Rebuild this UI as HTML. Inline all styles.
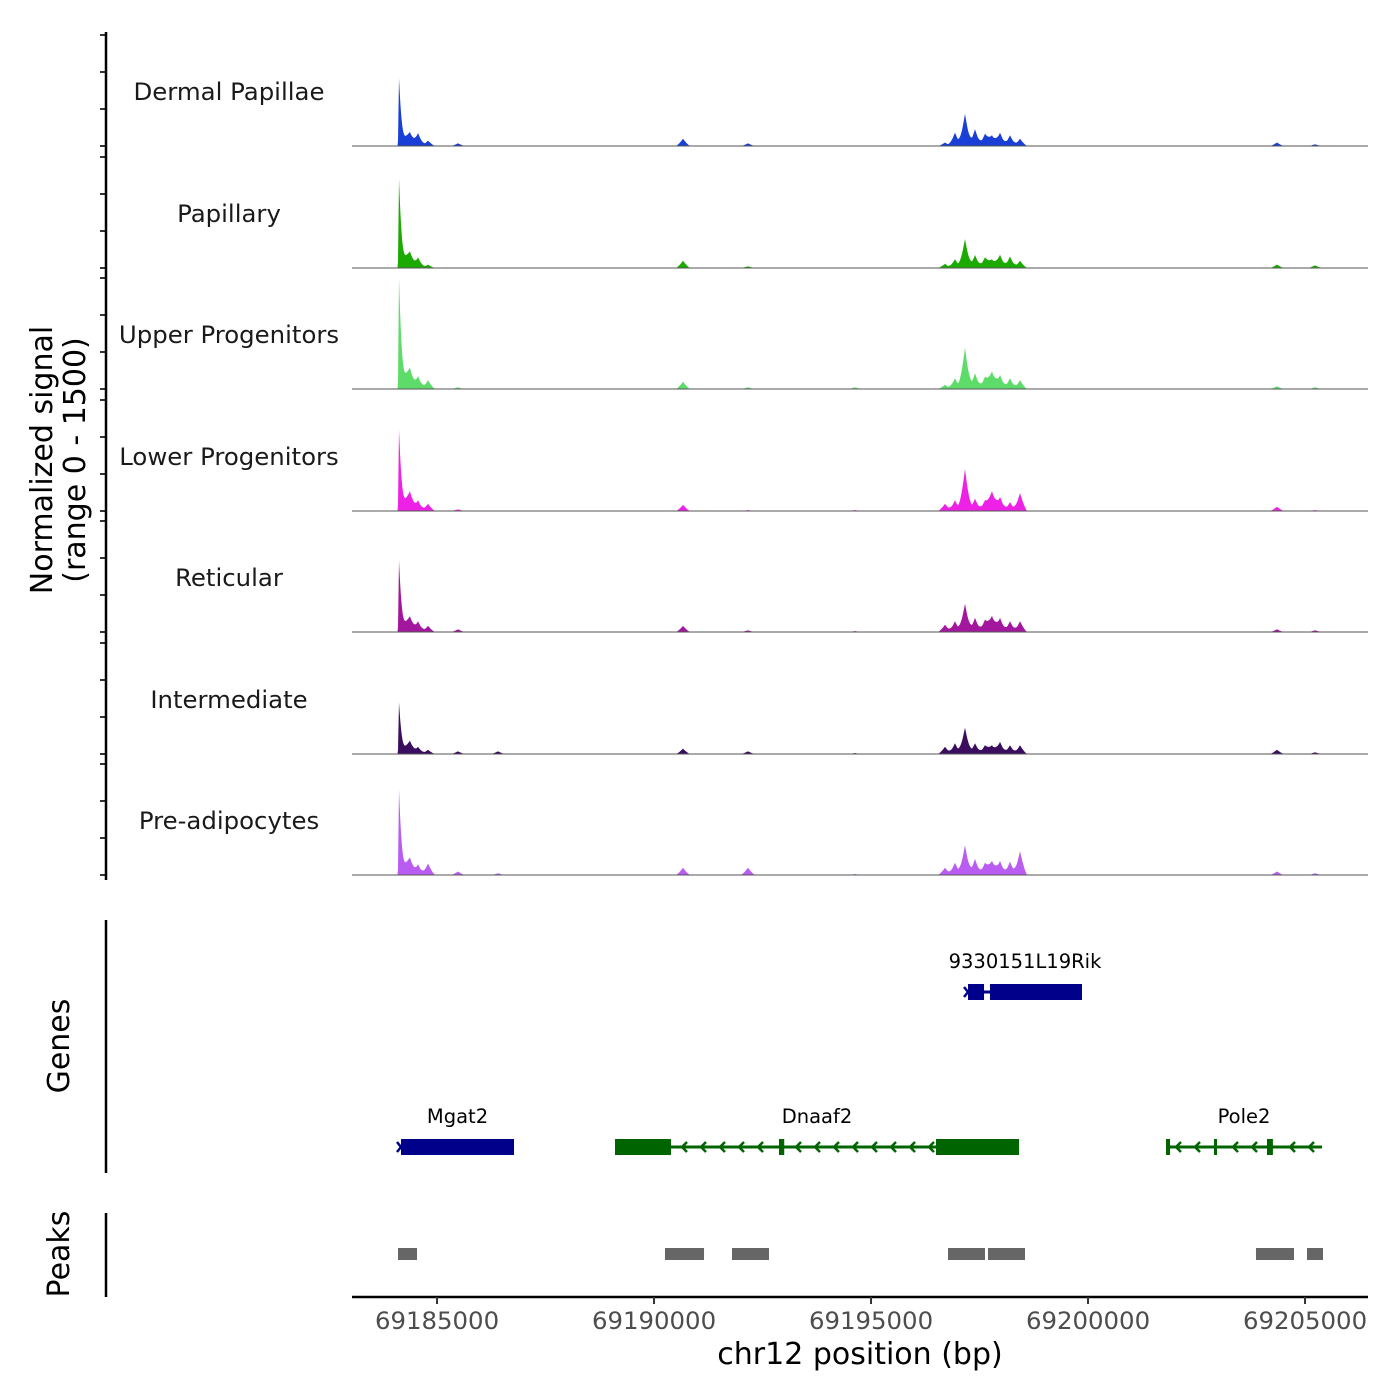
<!DOCTYPE html>
<html><head><meta charset="utf-8">
<style>
html,body{margin:0;padding:0;background:#fff;}
svg{display:block;font-family:"DejaVu Sans","Liberation Sans",sans-serif;}
</style></head>
<body>
<svg id="chart" width="1400" height="1400" viewBox="0 0 1400 1400" xmlns="http://www.w3.org/2000/svg">
<g id="tracks"></g>
<g id="genes"></g>
<g id="peaks"></g>
<g id="axes"></g>
<text transform="translate(52,460) rotate(-90)" text-anchor="middle" font-size="30" fill="#000">Normalized signal</text>
<text transform="translate(85,460) rotate(-90)" text-anchor="middle" font-size="30" fill="#000">(range 0 - 1500)</text>
<text transform="translate(69,1046) rotate(-90)" text-anchor="middle" font-size="30" fill="#000">Genes</text>
<text transform="translate(69,1254) rotate(-90)" text-anchor="middle" font-size="30" fill="#000">Peaks</text>
<text x="860" y="1364" text-anchor="middle" font-size="30" fill="#000">chr12 position (bp)</text>
</svg>
<script>
const trackNames = ["Dermal Papillae","Papillary","Upper Progenitors","Lower Progenitors","Reticular","Intermediate","Pre-adipocytes"];
const trackColors = ["#1a3fd6","#1aaa00","#5ddc6a","#ee22e6","#a3179f","#3b0d5e","#b95cf2"];
const peakPositions = [69184124,69184377,69184562,69184792,69185483,69186405,69190668,69192165,69194631,69196705,69196935,69197165,69197396,69197626,69197788,69197972,69198202,69198433,69204354,69205230];
const dermalValues = [885,140,170,70,35,0,95,35,0,45,175,420,220,160,140,175,140,95,45,22];
const papillaryValues = [1170,160,140,45,0,0,95,22,0,55,115,380,170,140,115,175,150,95,45,35];
const upperValues = [1456,205,170,115,22,0,95,22,22,55,140,540,205,160,230,185,140,115,35,22];
const lowerValues = [1066,205,140,95,22,0,80,12,12,95,140,550,160,140,260,185,115,235,55,12];
const reticularValues = [936,160,140,80,35,0,80,22,12,95,140,370,185,160,210,185,140,140,35,22];
const intermediateValues = [676,140,95,55,35,35,70,35,12,95,140,345,140,115,115,160,115,115,55,22];
const preadipoValues = [1118,175,140,150,45,22,95,95,12,95,160,390,210,160,185,185,175,310,45,22];
const seriesValues = [dermalValues,papillaryValues,upperValues,lowerValues,reticularValues,intermediateValues,preadipoValues];
const xTicks = [69185000,69190000,69195000,69200000,69205000];
const geneNames = ["Mgat2","Dnaaf2","9330151L19Rik","Pole2"];
const geneStarts = [69184170,69189101,69197235,69201797];
const geneEnds = [69186774,69198410,69199861,69205391];
const geneStrands = ["+","-","+","-"];
const geneRows = [1,1,0,1];
const geneExons = [
  [[69184170,69186774]],
  [[69189101,69190391],[69192880,69193000],[69196497,69198410]],
  [[69197235,69197604],[69197741,69199861]],
  [[69201797,69201890],[69202903,69202950],[69204124,69204260]]
];
const peakStarts = [69184101,69190253,69191797,69196774,69197695,69203870,69205046];
const peakEnds = [69184539,69191152,69192649,69197626,69198548,69204746,69205414];

const NS = "http://www.w3.org/2000/svg";
const X0 = 352, X1 = 1368, BP0 = 69183041, BPPX = 0.0434;
function xs(bp){ return X0 + (bp - BP0) * BPPX; }
function xinv(px){ return BP0 + (px - X0) / BPPX; }
const baselines = [146,268,389,511,632,754,875];
function ys(v, i){ return baselines[i] - v / 1500 * 115; }
function mk(tag, attrs, parent){ const e = document.createElementNS(NS, tag); for (const k in attrs) e.setAttribute(k, attrs[k]); parent.appendChild(e); return e; }

const tracks = document.getElementById('tracks');
seriesValues.forEach((vals, i) => {
  let d = "M" + X0 + "," + baselines[i];
  for (let px = X0; px <= X1; px += 0.5) {
    const bp = xinv(px);
    let v = 0;
    peakPositions.forEach((p, k) => {
      const dist = bp - p;
      if (k === 0) {
        if (dist < 0) { const t = 1 + dist / 25; if (t > 0) v += vals[k] * t; }
        else {
          const t1 = 1 - dist / 180; if (t1 > 0) v += vals[k] * 0.82 * Math.pow(t1, 3);
          const t2 = 1 - dist / 350; if (t2 > 0) v += vals[k] * 0.18 * t2;
        }
      } else {
        const t = 1 - Math.abs(dist) / 170;
        if (t > 0) v += vals[k] * Math.pow(t, 1.4);
      }
    });
    d += " L" + px.toFixed(1) + "," + ys(v, i).toFixed(2);
  }
  d += " L" + X1 + "," + baselines[i] + " Z";
  const p = mk('path', {d: d, fill: trackColors[i], stroke: 'none'}, tracks);
  
  
  const bl = mk('line', {x1: X0, x2: X1, y1: baselines[i], y2: baselines[i], stroke: '#555', 'stroke-width': 1}, tracks);
  
  
  const lab = mk('text', {x: 229, y: baselines[i] - 46, 'text-anchor': 'middle', 'font-size': 24.4, fill: '#1a1a1a'}, tracks);
  lab.textContent = trackNames[i];
  
  
  for (let t = 0; t < 4; t++) {
    const ty = baselines[i] - t * 37;
    const tk = mk('line', {x1: 100, x2: 106, y1: ty, y2: ty, stroke: '#333', 'stroke-width': 2}, tracks);
    
    
  }
});

const genes = document.getElementById('genes');
const rowY = [992, 1147];
geneNames.forEach((name, g) => {
  const col = geneStrands[g] === '+' ? '#00008b' : '#006400';
  const y = rowY[geneRows[g]];
  const grp = mk('g', {}, genes);
  
  
  mk('line', {x1: xs(geneStarts[g]), x2: xs(geneEnds[g]), y1: y, y2: y, stroke: col, 'stroke-width': 3}, grp);
  geneExons[g].forEach(ex => {
    const x1 = xs(ex[0]), x2 = xs(ex[1]);
    mk('rect', {x: x1, y: y - 8, width: Math.max(3, x2 - x1), height: 16, fill: col}, grp);
  });
  const sx = xs(geneStarts[g]), ex2 = xs(geneEnds[g]);
  const dir = geneStrands[g] === '+' ? -1 : 1;
  for (let ax = sx + 10; ax < ex2 - 2; ax += 19) {
    const inside = geneExons[g].some(e => ax > xs(e[0]) - 3 && ax < xs(e[1]) + 3);
    if (inside) continue;
    mk('polyline', {points: (ax + 5 * dir) + "," + (y - 5) + " " + ax + "," + y + " " + (ax + 5 * dir) + "," + (y + 5), fill: 'none', stroke: col, 'stroke-width': 2.5}, grp);
  }
  if (geneStrands[g] === '+') {
    mk('polyline', {points: (sx - 4) + "," + (y - 5) + " " + sx + "," + y + " " + (sx - 4) + "," + (y + 5), fill: 'none', stroke: col, 'stroke-width': 2.5}, grp);
  }
  const t = mk('text', {x: (sx + ex2) / 2, y: y - 24, 'text-anchor': 'middle', 'font-size': 19.5, fill: '#000'}, grp);
  t.textContent = name;
});

const peaks = document.getElementById('peaks');
peakStarts.forEach((s, k) => {
  const r = mk('rect', {x: xs(s), y: 1248, width: xs(peakEnds[k]) - xs(s), height: 12, fill: '#666'}, peaks);
  
  
});

const axes = document.getElementById('axes');
[[32, 880], [920, 1173], [1213, 1297]].forEach(seg => {
  const l = mk('line', {x1: 106, x2: 106, y1: seg[0], y2: seg[1], stroke: '#000', 'stroke-width': 2.5}, axes);
  
  
});
const xl = mk('line', {x1: X0, x2: X1, y1: 1297, y2: 1297, stroke: '#000', 'stroke-width': 2.5}, axes);


xTicks.forEach(v => {
  const x = xs(v);
  const tk = mk('line', {x1: x, x2: x, y1: 1297, y2: 1304, stroke: '#333', 'stroke-width': 2}, axes);
  
  
  const t = mk('text', {x: x, y: 1329, 'text-anchor': 'middle', 'font-size': 24.4, fill: '#4d4d4d'}, axes);
  t.textContent = String(v);
  
  
});
</script>
</body></html>
